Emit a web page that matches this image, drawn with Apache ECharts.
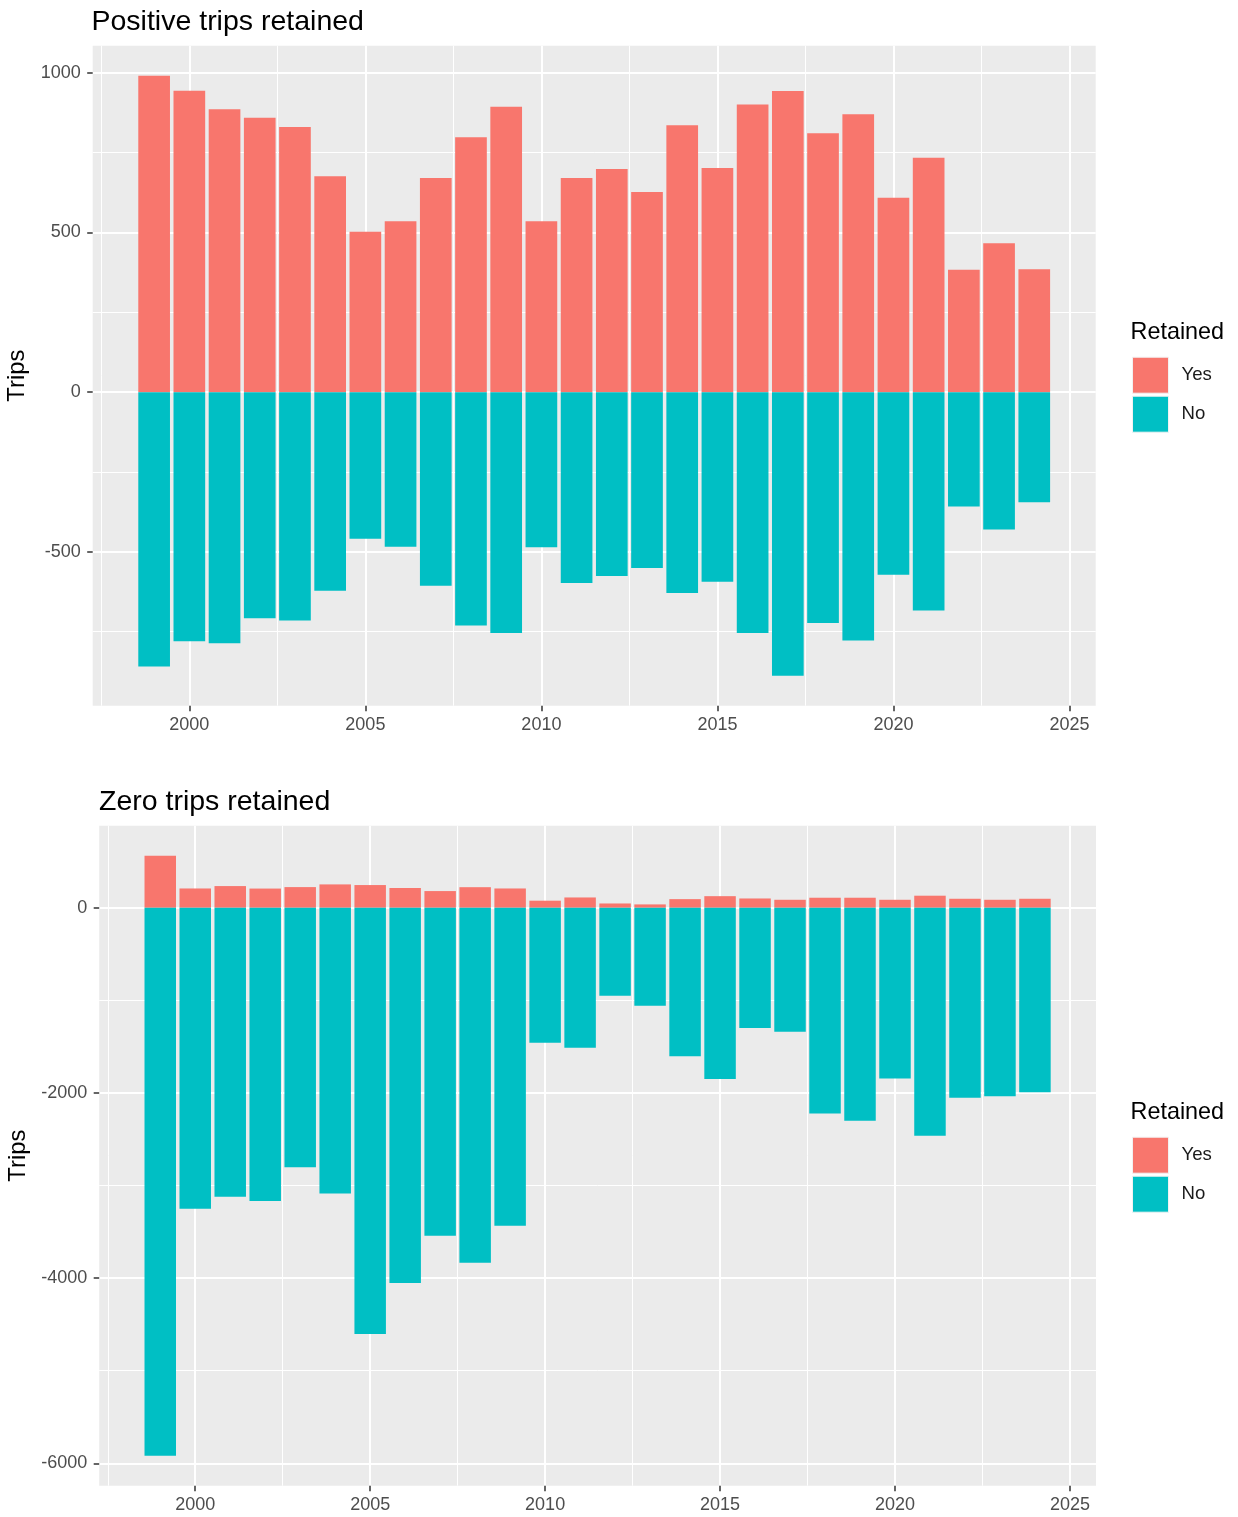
<!DOCTYPE html>
<html>
<head>
<meta charset="utf-8">
<title>Trips retained</title>
<script src="https://cdn.jsdelivr.net/npm/echarts@6/dist/echarts.min.js"></script>
<style>
  html, body { margin: 0; padding: 0; background: #fff; }
  #main { width: 1238px; height: 1517px; }
</style>
</head>
<body>
<div id="main"></div>
<script>
var years = [1999, 2000, 2001, 2002, 2003, 2004, 2005, 2006, 2007, 2008, 2009, 2010, 2011,
             2012, 2013, 2014, 2015, 2016, 2017, 2018, 2019, 2020, 2021, 2022, 2023, 2024];

// Positive trips: retained (Yes) above zero, not retained (No) below
var positiveYes = [991, 944, 886, 859, 830, 676, 502, 535, 671, 798, 894, 535, 671,
                   699, 627, 836, 702, 901, 943, 811, 870, 609, 734, 383, 466, 385];
var positiveNo = [-859, -780, -786, -708, -715, -622, -459, -484, -606, -731, -754, -486, -598,
                  -576, -551, -629, -594, -754, -888, -723, -778, -572, -684, -358, -430, -345];

// Zero trips
var zeroYes = [562, 208, 234, 207, 223, 252, 245, 213, 180, 222, 208, 76, 111,
               46, 36, 93, 125, 100, 86, 108, 108, 86, 130, 97, 86, 97];
var zeroNo = [-5918, -3251, -3121, -3168, -2804, -3085, -4604, -4053, -3542, -3834, -3434, -1458, -1512,
              -950, -1058, -1605, -1850, -1299, -1339, -2221, -2300, -1843, -2462, -2052, -2037, -1994];

var xBreaks = [2000, 2005, 2010, 2015, 2020, 2025];
var xMinorBreaks = [1997.5, 2002.5, 2007.5, 2012.5, 2017.5, 2022.5];
var positiveBreaks = [-500, 0, 500, 1000];
var positiveMinorBreaks = [-750, -250, 250, 750];
var zeroBreaks = [-6000, -4000, -2000, 0];
var zeroMinorBreaks = [-5000, -3000, -1000];

var YES_COLOR = '#F8766D';
var NO_COLOR = '#00BFC4';
var FONT = 'Liberation Sans';

// ggplot style 5% expansion on each side
function expand(lo, hi) {
    var d = (hi - lo) * 0.05;
    return [lo - d, hi + d];
}

var xRange = expand(years[0] - 0.45, years[years.length - 1] + 0.45);

var panels = [
    {
        title: 'Positive trips retained', yes: positiveYes, no: positiveNo,
        breaks: positiveBreaks, minor: positiveMinorBreaks,
        left: 92.7, top: 45.7, width: 1003, height: 660, titleLeft: 91.5
    },
    {
        title: 'Zero trips retained', yes: zeroYes, no: zeroNo,
        breaks: zeroBreaks, minor: zeroMinorBreaks,
        left: 99.2, top: 825.7, width: 996.8, height: 660, titleLeft: 99
    }
];

var chartDom = document.getElementById('main');
var myChart = echarts.init(chartDom, null, { renderer: 'canvas' });

var grids = [], xAxes = [], yAxes = [], series = [], titles = [], legends = [];
var plain = function (v) { return String(v); };

panels.forEach(function (p, i) {
    var yRange = expand(Math.min.apply(null, p.no), Math.max.apply(null, p.yes));
    var barWidth = 0.9 * p.width / (xRange[1] - xRange[0]);

    grids.push({
        left: p.left, top: p.top, width: p.width, height: p.height,
        show: true, backgroundColor: '#EBEBEB', borderWidth: 0,
        outerBoundsMode: 'none'
    });

    titles.push({
        text: p.title, left: p.titleLeft, top: p.top - 38.5, padding: 0,
        textStyle: { fontFamily: FONT, fontSize: 28.5, fontWeight: 'normal', color: '#000' }
    });
    titles.push({
        text: 'Retained', left: 1130.5, top: p.top + 275.5, padding: 0,
        textStyle: { fontFamily: FONT, fontSize: 23.4, fontWeight: 'normal', color: '#000' }
    });

    legends.push({
        orient: 'vertical', left: 1132, top: p.top + 311, padding: 0,
        itemWidth: 36, itemHeight: 36, itemGap: 2, icon: 'rect',
        selectedMode: false,
        data: ['Yes', 'No'],
        itemStyle: { borderColor: '#F2F2F2', borderWidth: 1 },
        textStyle: { fontFamily: FONT, fontSize: 18.6, color: '#1A1A1A', padding: [0, 0, 0, 8] }
    });

    // major x axis with labels
    xAxes.push({
        type: 'value', gridIndex: i, position: 'bottom', min: xRange[0], max: xRange[1],
        axisLine: { show: false, onZero: false },
        axisTick: { show: true, length: 5.5, customValues: xBreaks, lineStyle: { color: '#333333', width: 1.5 } },
        axisLabel: { customValues: xBreaks, margin: 10, color: '#4D4D4D', fontSize: 18, fontFamily: FONT, formatter: plain },
        splitLine: { show: true, lineStyle: { color: '#FFFFFF', width: 2 } }
    });
    // minor x grid lines
    xAxes.push({
        type: 'value', gridIndex: i, position: 'bottom', min: xRange[0], max: xRange[1],
        axisLine: { show: false, onZero: false },
        axisTick: { show: false, customValues: xMinorBreaks },
        axisLabel: { show: false, customValues: xMinorBreaks },
        splitLine: { show: true, lineStyle: { color: '#FFFFFF', width: 1 } }
    });

    yAxes.push({
        type: 'value', gridIndex: i, position: 'left', min: yRange[0], max: yRange[1],
        name: 'Trips', nameLocation: 'middle', nameGap: 52,
        nameTextStyle: { fontFamily: FONT, fontSize: 23.8, color: '#000' },
        axisLine: { show: false, onZero: false },
        axisTick: { show: true, length: 5.5, customValues: p.breaks, lineStyle: { color: '#333333', width: 1.5 } },
        axisLabel: { customValues: p.breaks, margin: 12, color: '#4D4D4D', fontSize: 18, fontFamily: FONT, formatter: plain },
        splitLine: { show: true, lineStyle: { color: '#FFFFFF', width: 2 } }
    });
    yAxes.push({
        type: 'value', gridIndex: i, position: 'left', min: yRange[0], max: yRange[1],
        axisLine: { show: false, onZero: false },
        axisTick: { show: false, customValues: p.minor },
        axisLabel: { show: false, customValues: p.minor },
        splitLine: { show: true, lineStyle: { color: '#FFFFFF', width: 1 } }
    });

    series.push({
        name: 'Yes', type: 'bar', xAxisIndex: i * 2, yAxisIndex: i * 2,
        stack: 'panel' + i, barWidth: barWidth, silent: true,
        itemStyle: { color: YES_COLOR },
        data: years.map(function (y, k) { return [y, p.yes[k]]; })
    });
    series.push({
        name: 'No', type: 'bar', xAxisIndex: i * 2, yAxisIndex: i * 2,
        stack: 'panel' + i, barWidth: barWidth, silent: true,
        itemStyle: { color: NO_COLOR },
        data: years.map(function (y, k) { return [y, p.no[k]]; })
    });
});

var option = {
    backgroundColor: '#FFFFFF',
    animation: false,
    title: titles,
    legend: legends,
    grid: grids,
    xAxis: xAxes,
    yAxis: yAxes,
    series: series
};

myChart.setOption(option);
</script>
</body>
</html>
